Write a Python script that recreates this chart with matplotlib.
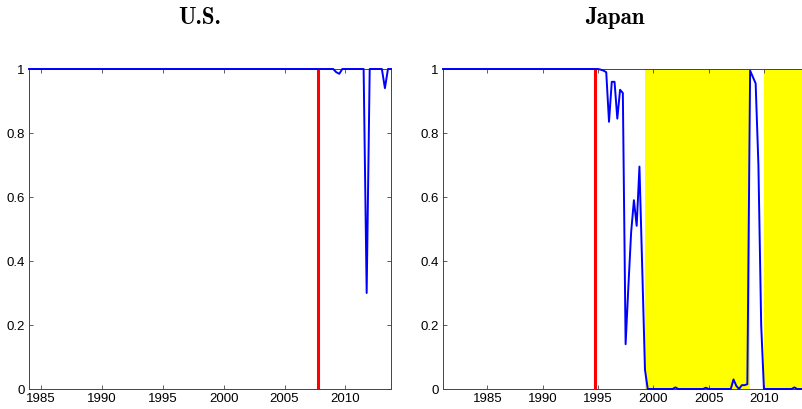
import matplotlib
matplotlib.use('Agg')
import matplotlib.pyplot as plt

# U.S. regime probability (quarterly, only breakpoints listed)
us_dates = [1984.0, 2009.0, 2009.25, 2009.5, 2009.75, 2011.5, 2011.75, 2012.0,
            2013.0, 2013.25, 2013.5, 2013.75]
us_prob = [1.0, 1.0, 0.99, 0.985, 1.0, 1.0, 0.30, 1.0,
           1.0, 0.94, 1.0, 1.0]
us_break = 2007.75

# Japan regime probability
jp_dates = [1981.0, 1995.0, 1995.25, 1995.5, 1995.75, 1996.0, 1996.25, 1996.5,
            1996.75, 1997.0, 1997.25, 1997.5, 1997.75, 1998.0, 1998.25, 1998.5,
            1998.75, 1999.0, 1999.25, 1999.5, 2001.75, 2002.0, 2002.25, 2004.5,
            2004.75, 2005.0, 2007.0, 2007.25, 2007.5, 2007.75, 2008.0, 2008.25,
            2008.5, 2008.75, 2009.0, 2009.25, 2009.5, 2009.75, 2010.0, 2012.5,
            2012.75, 2013.0, 2013.75]
jp_prob = [1.0, 1.0, 0.998, 0.995, 0.99, 0.835, 0.96, 0.96,
           0.845, 0.935, 0.925, 0.14, 0.32, 0.49, 0.59, 0.51,
           0.695, 0.38, 0.06, 0.0, 0.0, 0.005, 0.0, 0.0,
           0.004, 0.0, 0.0, 0.03, 0.01, 0.0, 0.012, 0.012,
           0.015, 0.995, 0.975, 0.955, 0.70, 0.20, 0.0, 0.0,
           0.005, 0.0, 0.0]
jp_break = 1994.75
jp_shade = [(1999.25, 2008.75), (2010.0, 2014.5)]

plt.rcParams['font.family'] = ['Liberation Sans', 'DejaVu Sans']

fig = plt.figure(figsize=(8.02, 4.09), dpi=100)
W, H = 802.0, 409.0
ax1 = fig.add_axes([29 / W, 20 / H, 362 / W, 320 / H])
ax2 = fig.add_axes([443 / W, 20 / H, 363 / W, 320 / H])


def style(ax):
    for s in ax.spines.values():
        s.set_color('#444444')
        s.set_linewidth(0.7)
    ax.tick_params(direction='in', length=2.6, width=0.6, color='#444444',
                   top=True, right=True, labelsize=9.5, pad=3)
    ax.set_ylim(0, 1)
    ax.set_yticks([0, 0.2, 0.4, 0.6, 0.8, 1])
    ax.set_yticklabels(['0', '0.2', '0.4', '0.6', '0.8', '1'])


# U.S.
ax1.axvline(us_break, color='red', lw=2.2, zorder=2)
ax1.plot(us_dates, us_prob, color='blue', lw=1.4, zorder=3, clip_on=False)
ax1.set_xlim(1984, 2013.75)
ax1.set_xticks([1985, 1990, 1995, 2000, 2005, 2010])
style(ax1)
ax1.text(0.472, 1.16, 'U.S.', transform=ax1.transAxes, family='cmb10',
         ha='center', va='center', fontsize=16.5)

# Japan
for a, b in jp_shade:
    ax2.axvspan(a, b, color='#ffff00', lw=0, zorder=1)
ax2.axvline(jp_break, color='red', lw=2.2, zorder=2)
ax2.plot(jp_dates, jp_prob, color='blue', lw=1.4, zorder=3, clip_on=False)
ax2.set_xlim(1981, 2013.8)
ax2.set_xticks([1985, 1990, 1995, 2000, 2005, 2010])
style(ax2)
ax2.text(0.474, 1.16, 'Japan', transform=ax2.transAxes, family='cmb10',
         ha='center', va='center', fontsize=16.5)

fig.savefig('out.png', dpi=100)
